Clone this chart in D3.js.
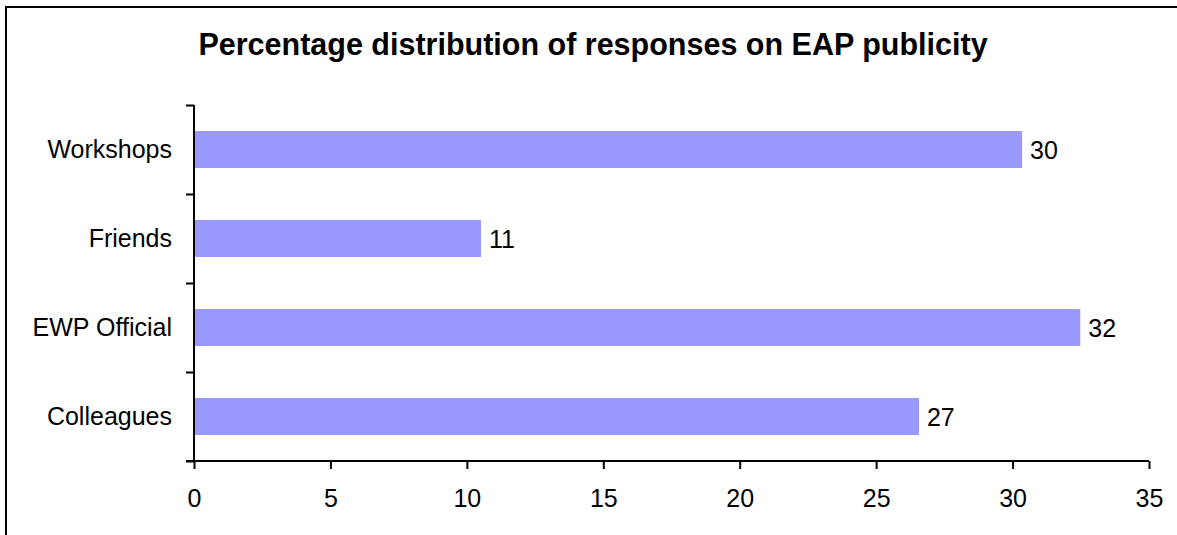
<!DOCTYPE html>
<html>
<head>
<meta charset="utf-8">
<script src="https://cdn.jsdelivr.net/npm/d3@7"></script>
<style>
  html, body { margin: 0; padding: 0; background: #fff; }
  svg { display: block; font-family: "Liberation Sans", Arial, sans-serif; }
</style>
</head>
<body>
<svg id="chart" width="1177" height="535"></svg>
<script>
// Survey results: how respondents heard about the EAP
const categories = ["Colleagues", "EWP Official", "Friends", "Workshops"];
const percentages = [26.57, 32.48, 10.52, 30.35];
const xTicks = [0, 5, 10, 15, 20, 25, 30, 35];
const titleText = "Percentage distribution of responses on EAP publicity";

const svg = d3.select("#chart");
const W = 1177, H = 535;
const plotLeft = 194, plotRight = 1149, plotTop = 105, plotBottom = 461;

// outer frame
svg.append("rect")
  .attr("x", 6).attr("y", 7)
  .attr("width", W + 20).attr("height", H + 20)
  .attr("fill", "#fff").attr("stroke", "#000").attr("stroke-width", 2);

svg.append("text")
  .attr("x", 593).attr("y", 55)
  .attr("text-anchor", "middle")
  .attr("font-size", 30.5).attr("font-weight", "bold")
  .attr("fill", "#000")
  .text(titleText);

const x = d3.scaleLinear().domain([0, 35]).range([plotLeft, plotRight]);
const y = d3.scaleBand().domain(categories).range([plotBottom, plotTop])
  .paddingInner(0.585).paddingOuter(0.2925);
const yIdx = d3.scaleLinear().domain([0, categories.length]).range([plotBottom, plotTop]);

// bars
svg.append("g").selectAll("rect")
  .data(categories)
  .join("rect")
  .attr("x", x(0))
  .attr("y", d => y(d))
  .attr("width", (d, i) => x(percentages[i]) - x(0))
  .attr("height", y.bandwidth())
  .attr("fill", "#9999FF");

// value labels
const fmt = d3.format(".0f");
svg.append("g").selectAll("text")
  .data(categories)
  .join("text")
  .attr("x", (d, i) => x(percentages[i]) + 8)
  .attr("y", d => y(d) + y.bandwidth() / 2 + 9)
  .attr("font-size", 25)
  .attr("fill", "#000")
  .text((d, i) => fmt(percentages[i]));

// x axis
const xAxis = svg.append("g")
  .attr("transform", `translate(0,${plotBottom})`)
  .call(d3.axisBottom(x).tickValues(xTicks).tickFormat(d3.format("d"))
    .tickSize(8).tickSizeOuter(0).tickPadding(20));
xAxis.select(".domain").remove();
xAxis.append("line")
  .attr("x1", plotLeft - 8).attr("x2", plotRight)
  .attr("stroke", "#000").attr("stroke-width", 2);
xAxis.selectAll(".tick line").attr("stroke", "#000").attr("stroke-width", 2);
xAxis.selectAll(".tick text").attr("font-size", 25).attr("fill", "#000")
  .attr("font-family", "Liberation Sans, Arial, sans-serif");

// y axis: category boundary ticks
const yTickAxis = svg.append("g")
  .attr("transform", `translate(${plotLeft},0)`)
  .call(d3.axisLeft(yIdx).tickValues(d3.range(categories.length + 1))
    .tickFormat("").tickSize(8).tickSizeOuter(0));
yTickAxis.select(".domain").remove();
yTickAxis.append("line")
  .attr("y1", plotTop).attr("y2", plotBottom)
  .attr("stroke", "#000").attr("stroke-width", 2);
yTickAxis.selectAll(".tick line").attr("stroke", "#000").attr("stroke-width", 2);

// y axis: category labels
const yLabels = svg.append("g")
  .attr("transform", `translate(${plotLeft},0)`)
  .call(d3.axisLeft(y).tickSize(0).tickPadding(22));
yLabels.select(".domain").remove();
yLabels.selectAll(".tick text").attr("font-size", 25).attr("fill", "#000")
  .attr("font-family", "Liberation Sans, Arial, sans-serif");
</script>
</body>
</html>
